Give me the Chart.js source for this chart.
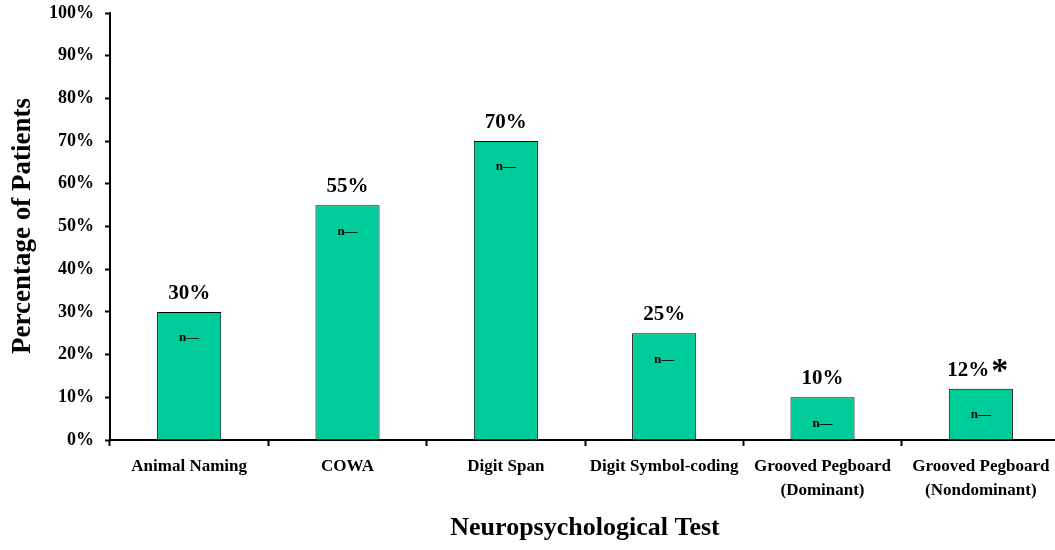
<!DOCTYPE html>
<html>
<head>
<meta charset="utf-8">
<script src="https://cdn.jsdelivr.net/npm/chart.js@4"></script>
<style>
  html, body { margin: 0; padding: 0; background: #fff; overflow: hidden; }
  #wrap { width: 1062px; height: 550px; }
</style>
</head>
<body>
<div id="wrap"><canvas id="testChart" width="1062" height="550"></canvas></div>
<script>
const categories = [
    'Animal Naming',
    'COWA',
    'Digit Span',
    'Digit Symbol-coding',
    ['Grooved Pegboard', '(Dominant)'],
    ['Grooved Pegboard', '(Nondominant)']
];
const percentValues = [30, 55, 70, 25, 10, 12];
const valueNotes = ['', '', '', '', '', '*'];
const innerText = 'n\u2014';
const yTicks = [0, 10, 20, 30, 40, 50, 60, 70, 80, 90, 100];

const serif = '"Liberation Serif", "Times New Roman", serif';

const labelPlugin = {
    id: 'labelPlugin',
    afterDatasetsDraw(chart) {
        const ctx = chart.ctx;
        const meta = chart.getDatasetMeta(0);
        ctx.save();
        ctx.fillStyle = '#000';
        meta.data.forEach((bar, i) => {
            // value label above bar
            const txt = percentValues[i] + '%';
            ctx.font = 'bold 21px ' + serif;
            const w1 = ctx.measureText(txt).width;
            let w2 = 0;
            if (valueNotes[i]) {
                ctx.font = 'bold 34px ' + serif;
                w2 = ctx.measureText(valueNotes[i]).width + 2;
            }
            let startX = bar.x - (w1 + w2) / 2;
            if (valueNotes[i]) startX -= 3;
            ctx.textBaseline = 'alphabetic';
            ctx.textAlign = 'left';
            ctx.font = 'bold 21px ' + serif;
            ctx.fillText(txt, startX, bar.y - 13);
            if (valueNotes[i]) {
                ctx.font = 'bold 34px ' + serif;
                ctx.fillText(valueNotes[i], startX + w1 + 2, bar.y - 8);
            }
            // small text inside bar
            ctx.font = 'bold 13px ' + serif;
            ctx.textAlign = 'center';
            ctx.textBaseline = 'middle';
            ctx.fillText(innerText, bar.x, bar.y + 26);
        });

        // axis titles
        ctx.font = 'bold 26px ' + serif;
        ctx.textAlign = 'center';
        ctx.textBaseline = 'middle';
        ctx.fillText('Neuropsychological Test', 585, 528);
        ctx.font = 'bold 27px ' + serif;
        ctx.translate(23, 226);
        ctx.rotate(-Math.PI / 2);
        ctx.fillText('Percentage of Patients', 0, 0);
        ctx.restore();
    }
};

const testChart = new Chart(document.getElementById('testChart').getContext('2d'), {
    type: 'bar',
    data: {
        labels: categories,
        datasets: [{
            data: percentValues,
            backgroundColor: '#00CC99',
            borderColor: '#000',
            borderWidth: 1,
            barPercentage: 0.405,
            categoryPercentage: 1.0
        }]
    },
    options: {
        responsive: false,
        animation: false,
        layout: { padding: { top: 13, right: 2, left: 0, bottom: 0 } },
        plugins: {
            legend: { display: false },
            tooltip: { enabled: false }
        },
        scales: {
            x: {
                grid: {
                    offset: true,
                    drawOnChartArea: false,
                    drawTicks: true,
                    tickLength: 6,
                    tickWidth: 2,
                    color: '#000'
                },
                border: { color: '#000', width: 2 },
                ticks: {
                    color: '#000',
                    padding: 9,
                    maxRotation: 0,
                    autoSkip: false,
                    font: { family: serif, size: 17, weight: 'bold', lineHeight: 1.38 }
                },
                afterFit(scale) {
                    scale.height = 110;
                    scale.paddingLeft = 0;
                    scale.paddingRight = 0;
                }
            },
            y: {
                min: 0,
                max: 100,
                afterBuildTicks(scale) {
                    scale.ticks = yTicks.map(v => ({ value: v }));
                },
                grid: {
                    drawOnChartArea: false,
                    drawTicks: true,
                    tickLength: 5,
                    tickWidth: 2,
                    color: '#000'
                },
                border: { color: '#000', width: 2 },
                ticks: {
                    color: '#000',
                    padding: 11,
                    callback: v => v + '%',
                    font: { family: serif, size: 18, weight: 'bold' }
                },
                afterFit(scale) {
                    scale.width = 110;
                    scale.paddingTop = 0;
                    scale.paddingBottom = 0;
                }
            }
        }
    },
    plugins: [labelPlugin]
});
</script>
</body>
</html>
